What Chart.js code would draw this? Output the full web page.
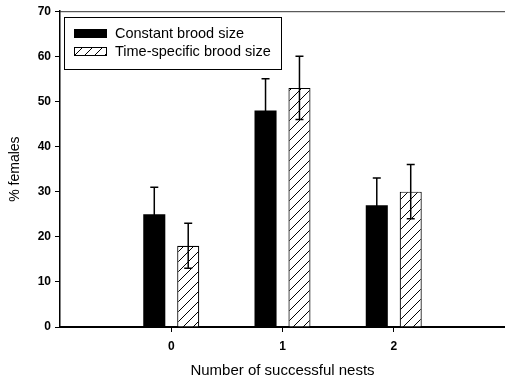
<!DOCTYPE html>
<html>
<head>
<meta charset="utf-8">
<script src="https://cdn.jsdelivr.net/npm/chart.js@4"></script>
<style>
html,body{margin:0;padding:0;background:#fff;}
#c{display:block;}
</style>
</head>
<body>
<canvas id="c" width="505" height="384"></canvas>
<script>
// ---- data ----
const categories = ['', '0', '1', '2', ''];
const constantValues = [null, 25, 48, 27, null];
const constantErrors = [null, 6, 7, 6, null];
const timeSpecificValues = [null, 18, 53, 30, null];
const timeSpecificErrors = [null, 5, 7, 6, null];
const seriesNames = ['Constant brood size', 'Time-specific brood size'];
const yTicks = [0, 10, 20, 30, 40, 50, 60, 70];
const xTitle = 'Number of successful nests';
const yTitle = '% females';

const FONT = '"Liberation Sans", Arial, Helvetica, sans-serif';

function makeHatch() {
  const s = 10;
  const p = document.createElement('canvas');
  p.width = s; p.height = s;
  const g = p.getContext('2d');
  g.fillStyle = '#fff';
  g.fillRect(0, 0, s, s);
  g.strokeStyle = '#000';
  g.lineWidth = 1;
  g.beginPath();
  g.moveTo(0, s); g.lineTo(s, 0);
  g.moveTo(-s/2, s/2); g.lineTo(s/2, -s/2);
  g.moveTo(s/2, s*1.5); g.lineTo(s*1.5, s/2);
  g.stroke();
  return document.getElementById('c').getContext('2d').createPattern(p, 'repeat');
}
const hatch = makeHatch();

const errorBars = {
  id: 'errorBars',
  afterDatasetsDraw(chart) {
    const ctx = chart.ctx;
    const y = chart.scales.y;
    const errs = [constantErrors, timeSpecificErrors];
    chart.data.datasets.forEach((ds, di) => {
      const meta = chart.getDatasetMeta(di);
      meta.data.forEach((bar, i) => {
        const v = ds.data[i];
        const e = errs[di][i];
        if (v == null || e == null) return;
        const yt = y.getPixelForValue(v + e);
        const yb = y.getPixelForValue(v - e);
        ctx.save();
        ctx.strokeStyle = '#000';
        ctx.lineWidth = 1.5;
        ctx.beginPath();
        ctx.moveTo(bar.x, yt); ctx.lineTo(bar.x, yb);
        ctx.moveTo(bar.x - 4, yt); ctx.lineTo(bar.x + 4, yt);
        ctx.moveTo(bar.x - 4, yb); ctx.lineTo(bar.x + 4, yb);
        ctx.stroke();
        ctx.restore();
      });
    });
  }
};

const frameAndLegend = {
  id: 'frameAndLegend',
  afterDraw(chart) {
    const ctx = chart.ctx;
    const a = chart.chartArea;
    ctx.save();
    // top frame line
    ctx.strokeStyle = '#333';
    ctx.lineWidth = 1;
    ctx.beginPath();
    ctx.moveTo(a.left, a.top + 0.5); ctx.lineTo(a.right, a.top + 0.5);
    ctx.stroke();
    // legend box
    const bx = 64.5, by = 17.5, bw = 217, bh = 52;
    ctx.fillStyle = '#fff';
    ctx.fillRect(bx, by, bw, bh);
    ctx.strokeStyle = '#000';
    ctx.lineWidth = 1;
    ctx.strokeRect(bx, by, bw, bh);
    const fills = ['#000', hatch];
    const rowsY = [33.5, 51.5];
    ctx.font = '14.5px ' + FONT;
    ctx.textBaseline = 'middle';
    ctx.textAlign = 'left';
    for (let i = 0; i < 2; i++) {
      const sy = rowsY[i] - 4.5;
      ctx.fillStyle = fills[i];
      ctx.fillRect(74, sy, 33, 9);
      ctx.strokeStyle = '#000';
      ctx.strokeRect(74.5, sy + 0.5, 32, 8);
      ctx.fillStyle = '#000';
      ctx.fillText(seriesNames[i], 115, rowsY[i]);
    }
    ctx.restore();
  }
};

new Chart(document.getElementById('c'), {
  type: 'bar',
  data: {
    labels: categories,
    datasets: [
      { label: seriesNames[0], data: constantValues, backgroundColor: '#000', borderColor: '#000', borderWidth: 0 },
      { label: seriesNames[1], data: timeSpecificValues, backgroundColor: hatch, borderColor: '#000', borderWidth: 1.2 }
    ]
  },
  options: {
    responsive: false,
    animation: false,
    devicePixelRatio: 1,
    categoryPercentage: 0.61,
    barPercentage: 0.65,
    layout: { padding: { top: 11, right: 0, left: 0, bottom: 0 } },
    plugins: { legend: { display: false }, tooltip: { enabled: false } },
    scales: {
      x: {
        offset: false,
        grid: {
          offset: false,
          drawOnChartArea: false,
          drawTicks: true,
          tickLength: 5,
          color: (c) => (c.index >= 1 && c.index <= 3) ? '#000' : 'rgba(0,0,0,0)',
          lineWidth: 1
        },
        border: { display: true, color: '#000', width: 2 },
        ticks: { color: '#000', font: { family: FONT, size: 12, weight: 'bold' }, padding: 7, maxRotation: 0, autoSkip: false },
        title: { display: true, text: xTitle, color: '#000', font: { family: FONT, size: 15 }, padding: { top: 0, bottom: 4 } },
        afterFit: (s) => { s.height = 57; s.paddingLeft = 0; s.paddingRight = 0; }
      },
      y: {
        min: 0, max: 70,
        afterBuildTicks: (s) => { s.ticks = yTicks.map(v => ({ value: v })); },
        grid: { drawOnChartArea: false, drawTicks: true, tickLength: 5, color: '#000', lineWidth: 1 },
        border: { display: true, color: '#000', width: 1.5 },
        ticks: { color: '#000', font: { family: FONT, size: 12, weight: 'bold' }, padding: 4 },
        title: { display: true, text: yTitle, color: '#000', font: { family: FONT, size: 14 }, padding: { top: 7, bottom: 0 } },
        afterFit: (s) => { s.width = 60; }
      }
    }
  },
  plugins: [errorBars, frameAndLegend]
});
</script>
</body>
</html>
